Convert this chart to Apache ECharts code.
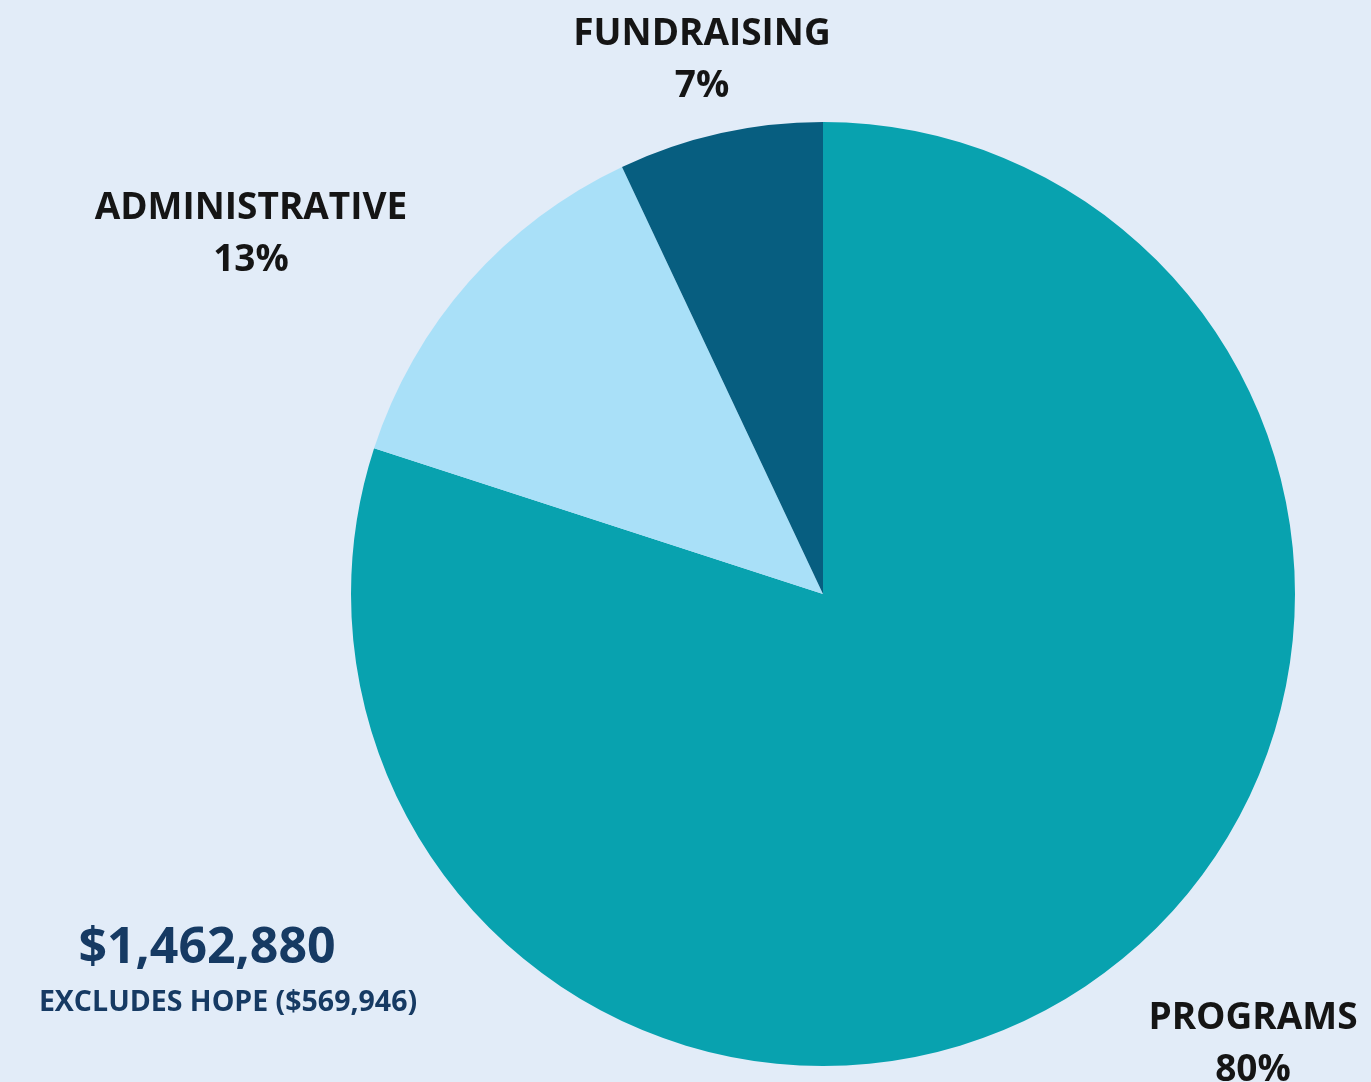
<!DOCTYPE html>
<html>
<head>
<meta charset="utf-8">
<script src="https://cdn.jsdelivr.net/npm/echarts@6/dist/echarts.min.js"></script>
<style>
html,body{margin:0;padding:0;background:#E2ECF8;}
#chart{width:1371px;height:1082px;}
</style>
</head>
<body>
<div id="chart"></div>
<script>
const categories = ['PROGRAMS', 'ADMINISTRATIVE', 'FUNDRAISING'];
const shares = [80, 13, 7];
const colors = ['#08A2AF', '#A9E0F8', '#075E80'];
const totalText = '$1,462,880';
const noteText = 'EXCLUDES HOPE ($569,946)';
const labelSpots = [[1253, 1044], [251, 234], [702, 60]];

const chart = echarts.init(document.getElementById('chart'));
chart.setOption({
  backgroundColor: '#E2ECF8',
  animation: false,
  series: [{
    type: 'pie',
    center: [823, 594],
    radius: 472,
    startAngle: 90,
    clockwise: true,
    data: categories.map((c, i) => ({ name: c, value: shares[i], itemStyle: { color: colors[i] } })),
    label: {
      show: true,
      formatter: '{b}\n{c}%',
      fontFamily: 'Open Sans',
      fontWeight: 'bold',
      fontSize: 37,
      lineHeight: 52,
      color: '#151515',
      align: 'center'
    },
    labelLine: { show: false },
    labelLayout: function (p) {
      const s = labelSpots[p.dataIndex];
      return { x: s[0], y: s[1], align: 'center', verticalAlign: 'middle' };
    }
  }],
  graphic: [
    { type: 'text', x: 207, y: 949, style: { text: totalText, fontFamily: 'Open Sans', fontWeight: 'bold', fontSize: 50, fill: '#163A63', textAlign: 'center', textVerticalAlign: 'middle' } },
    { type: 'text', x: 228, y: 1003, style: { text: noteText, fontFamily: 'Open Sans', fontWeight: 'bold', fontSize: 28.5, fill: '#163A63', textAlign: 'center', textVerticalAlign: 'middle' } }
  ]
});
</script>
</body>
</html>
